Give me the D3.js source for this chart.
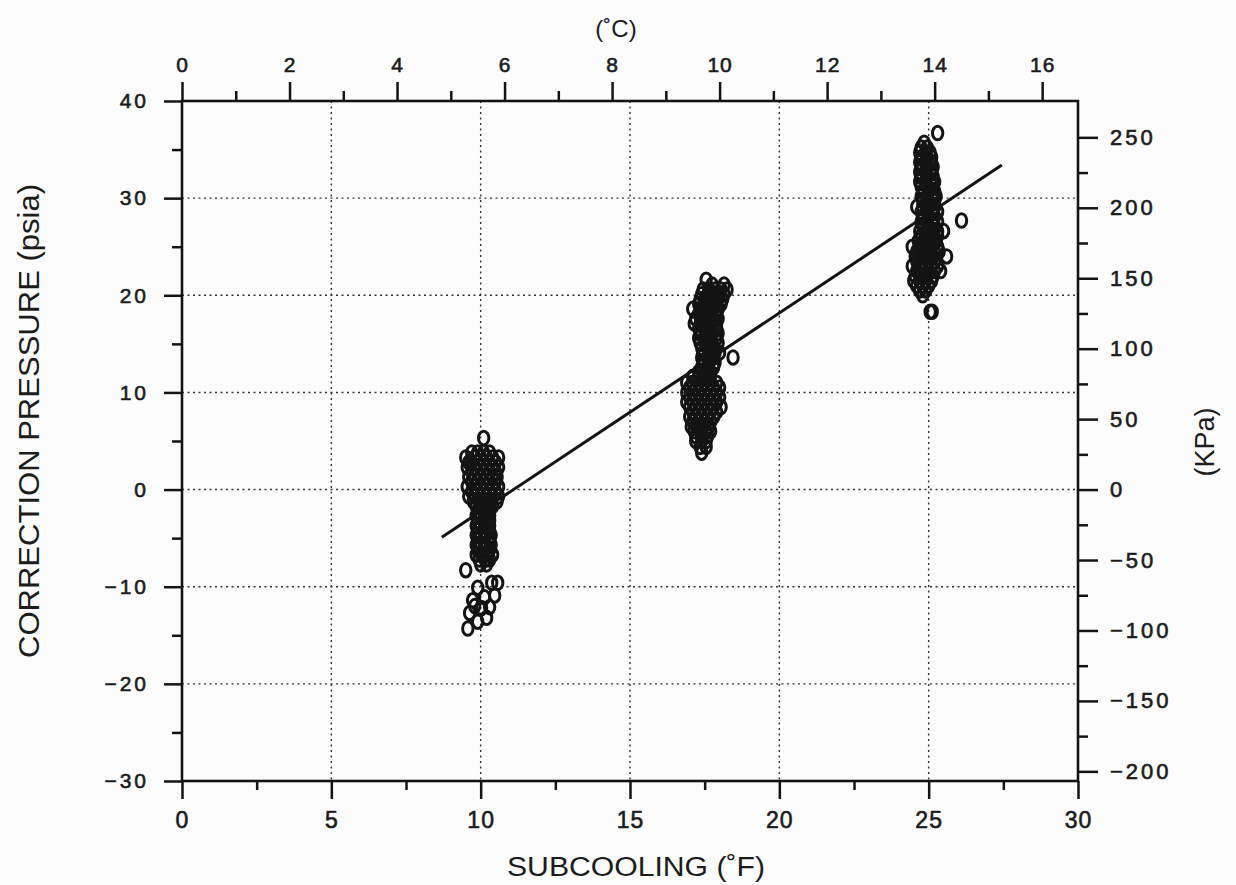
<!DOCTYPE html>
<html><head><meta charset="utf-8">
<script src="https://cdn.jsdelivr.net/npm/d3@7"></script>
<style>
body{margin:0;background:#fcfcfc}
svg{display:block;font-family:"Liberation Sans",Arial,Helvetica,sans-serif}
</style>
</head><body>
<svg id="c" width="1236" height="885"></svg>
<script>
// ---- data ----
const xTicksF = [0, 5, 10, 15, 20, 25, 30];
const xMinorF = [2.5, 7.5, 12.5, 17.5, 22.5, 27.5];
const xTicksC = [0, 2, 4, 6, 8, 10, 12, 14, 16];
const xMinorC = [1, 3, 5, 7, 9, 11, 13, 15];
const yTicksPsi = [40, 30, 20, 10, 0, -10, -20, -30];
const yMinorPsi = [35, 25, 15, 5, -5, -15, -25];
const yTicksKPa = [250, 200, 150, 100, 50, 0, -50, -100, -150, -200];
const yMinorKPa = [225, 175, 125, 75, 25, -25, -75, -125, -175];
const gridX = [5, 10, 15, 20, 25];
const gridY = [30, 20, 10, 0, -10, -20];

// observations, grouped by pressure (psia): [pressure, [subcooling values (F)]]
const rowsA = [
  [5.3, [10.1]],
  [3.8, [9.7, 9.9, 10.1, 10.3]],
  [3.3, [9.5, 9.8, 10.0, 10.2, 10.4, 10.6]],
  [2.8, [9.6, 9.7, 9.9, 10.1, 10.3, 10.5]],
  [2.3, [9.55, 9.8, 10.0, 10.2, 10.4, 10.6]],
  [1.8, [9.7, 9.9, 10.1, 10.3, 10.5]],
  [1.3, [9.6, 9.8, 10.0, 10.2, 10.4, 10.55]],
  [0.8, [9.7, 9.9, 10.1, 10.3, 10.5]],
  [0.3, [9.55, 9.8, 10.0, 10.2, 10.4, 10.6]],
  [-0.2, [9.7, 9.9, 10.1, 10.3, 10.5]],
  [-0.7, [9.6, 9.8, 10.0, 10.2, 10.4, 10.6]],
  [-1.2, [9.75, 9.95, 10.15, 10.35, 10.55]],
  [-1.7, [9.85, 10.0, 10.2, 10.4]],
  [-2.2, [9.9, 10.1, 10.3]],
  [-2.7, [9.85, 10.0, 10.15, 10.3]],
  [-3.2, [9.9, 10.1, 10.3]],
  [-3.7, [9.85, 10.0, 10.15, 10.3]],
  [-4.2, [9.9, 10.1, 10.3]],
  [-4.7, [9.85, 10.0, 10.15, 10.35]],
  [-5.2, [9.9, 10.1, 10.3]],
  [-5.7, [9.85, 10.0, 10.15, 10.35]],
  [-6.2, [9.9, 10.1, 10.3]],
  [-6.7, [9.85, 10.05, 10.25, 10.4]],
  [-7.2, [9.95, 10.15, 10.3]],
  [-7.7, [10.0, 10.2]],
  [-8.3, [9.5]],
  [-9.6, [10.37, 10.57]],
  [-10.1, [9.9]],
  [-10.9, [10.47]],
  [-11.1, [10.13]],
  [-11.4, [9.73]],
  [-12.0, [9.8]],
  [-12.1, [10.3]],
  [-12.2, [10.03]],
  [-12.7, [9.63]],
  [-13.2, [10.2]],
  [-13.6, [9.9]],
  [-14.3, [9.57]]
];
const rowsB = [
  [21.6, [17.55]],
  [21.1, [17.75, 18.15]],
  [20.6, [17.45, 17.65, 17.85, 18.05, 18.25]],
  [20.1, [17.4, 17.6, 17.8, 18.0, 18.15]],
  [19.6, [17.35, 17.55, 17.75, 17.95, 18.1]],
  [19.1, [17.3, 17.5, 17.7, 17.9, 18.05]],
  [18.6, [17.1, 17.35, 17.55, 17.75, 17.95]],
  [18.1, [17.3, 17.5, 17.7, 17.9]],
  [17.6, [17.2, 17.4, 17.6, 17.8, 17.95]],
  [17.1, [17.15, 17.35, 17.55, 17.75, 17.9]],
  [16.6, [17.3, 17.5, 17.7, 17.9]],
  [16.1, [17.35, 17.55, 17.75, 17.95]],
  [15.6, [17.3, 17.5, 17.7, 17.9]],
  [15.1, [17.35, 17.55, 17.75, 17.95]],
  [14.6, [17.4, 17.6, 17.8]],
  [14.1, [17.45, 17.65, 17.85, 18.0]],
  [13.6, [17.4, 17.6, 17.8, 18.45]],
  [13.1, [17.45, 17.65, 17.85]],
  [12.6, [17.4, 17.6, 17.8]],
  [12.1, [17.3, 17.5, 17.7]],
  [11.6, [17.1, 17.3, 17.5, 17.7]],
  [11.0, [16.9, 17.1, 17.3, 17.5, 17.7, 17.9]],
  [10.5, [17.0, 17.2, 17.4, 17.6, 17.8, 18.0]],
  [10.0, [16.9, 17.1, 17.3, 17.5, 17.7, 17.9]],
  [9.5, [17.0, 17.2, 17.4, 17.6, 17.8, 18.0]],
  [9.0, [16.9, 17.1, 17.3, 17.5, 17.7, 17.9]],
  [8.5, [17.0, 17.2, 17.4, 17.6, 17.8, 18.05]],
  [8.0, [17.1, 17.3, 17.5, 17.7, 17.9]],
  [7.5, [17.0, 17.2, 17.4, 17.6, 17.8]],
  [7.0, [17.1, 17.3, 17.5, 17.7]],
  [6.5, [17.05, 17.25, 17.45, 17.65]],
  [6.0, [17.15, 17.35, 17.55, 17.7]],
  [5.5, [17.2, 17.4, 17.6]],
  [5.0, [17.2, 17.4, 17.55]],
  [4.4, [17.35, 17.55]],
  [3.8, [17.4]]
];
const rowsC = [
  [36.7, [25.3]],
  [35.7, [24.85]],
  [35.2, [24.75, 24.95]],
  [34.7, [24.7, 24.9, 25.05]],
  [34.2, [24.75, 24.95, 25.1]],
  [33.7, [24.7, 24.9, 25.1]],
  [33.2, [24.75, 24.95, 25.15]],
  [32.7, [24.7, 24.9, 25.1]],
  [32.2, [24.75, 24.95, 25.15]],
  [31.7, [24.7, 24.9, 25.1, 25.2]],
  [31.2, [24.75, 24.95, 25.15]],
  [30.7, [24.8, 25.0, 25.2]],
  [30.2, [24.75, 24.95, 25.15, 25.25]],
  [29.7, [24.8, 25.0, 25.2]],
  [29.1, [24.6, 24.8, 25.0, 25.2]],
  [28.6, [24.75, 24.95, 25.15, 25.3]],
  [28.1, [24.8, 25.0, 25.2]],
  [27.7, [26.1]],
  [27.6, [24.75, 24.95, 25.15, 25.3]],
  [27.1, [24.8, 25.0, 25.2]],
  [26.6, [24.7, 24.9, 25.1, 25.3, 25.5]],
  [26.1, [24.75, 24.95, 25.15, 25.3]],
  [25.6, [24.65, 24.85, 25.05, 25.25]],
  [25.0, [24.45, 24.7, 24.9, 25.1, 25.3]],
  [24.5, [24.6, 24.8, 25.0, 25.2, 25.35]],
  [24.0, [24.55, 24.75, 24.95, 25.15, 25.6]],
  [23.5, [24.6, 24.8, 25.0, 25.2]],
  [23.0, [24.45, 24.7, 24.9, 25.1, 25.3]],
  [22.5, [24.6, 24.8, 25.0, 25.2, 25.4]],
  [22.0, [24.55, 24.75, 24.95, 25.15]],
  [21.5, [24.5, 24.7, 24.9, 25.1]],
  [21.0, [24.6, 24.8, 25.0]],
  [20.5, [24.7, 24.9]],
  [20.0, [24.8]],
  [18.3, [25.05, 25.12]]
];
const fitLine = [[8.7, -4.9], [27.45, 33.4]];

const PSI_TO_KPA = 6.894757;

// ---- drawing ----
const svg = d3.select('#c');
const L = 182, R = 1078, T = 101, B = 781;
const x = d3.scaleLinear().domain([0, 30]).range([L, R]);
const xC = d3.scaleLinear().domain([0, 30 / 1.8]).range([L, R]);
const y = d3.scaleLinear().domain([-30, 40]).range([B, T]);
const yK = d3.scaleLinear().domain([-30 * PSI_TO_KPA, 40 * PSI_TO_KPA]).range([B, T]);
const ink = '#141414';
const txt = '#1c1c1c';
const fmt = d => d < 0 ? '\u2212' + Math.abs(d) : String(d);
const tf = '"Liberation Sans",Arial,sans-serif';

svg.append('rect').attr('width', 1236).attr('height', 885).attr('fill', '#fcfcfc');

// grid
const grid = svg.append('g').attr('stroke', '#333').attr('stroke-width', 1.4).attr('stroke-dasharray', '2,3.5');
grid.selectAll('.gx').data(gridX).join('line')
  .attr('x1', d => x(d)).attr('x2', d => x(d)).attr('y1', T).attr('y2', B);
grid.selectAll('.gy').data(gridY).join('line')
  .attr('y1', d => y(d)).attr('y2', d => y(d)).attr('x1', L).attr('x2', R);

function styleAxis(g, fs, ls) {
  g.select('.domain').remove();
  g.selectAll('line').attr('stroke', ink).attr('stroke-width', 2.5);
  g.selectAll('text').attr('fill', txt).attr('font-size', fs).attr('letter-spacing', ls)
    .attr('font-family', tf).attr('stroke', txt).attr('stroke-width', 0.6);
}

// bottom
svg.append('g').attr('transform', `translate(0,${B})`)
  .call(d3.axisBottom(x).tickValues(xTicksF).tickSize(18).tickPadding(13).tickFormat(fmt))
  .call(g => styleAxis(g, 23, 1));
svg.append('g').attr('transform', `translate(0,${B})`)
  .call(d3.axisBottom(x).tickValues(xMinorF).tickSize(9).tickFormat(''))
  .call(g => styleAxis(g, 0, 0));
// top (C)
svg.append('g').attr('transform', `translate(0,${T})`)
  .call(d3.axisTop(xC).tickValues(xTicksC).tickSize(19).tickPadding(10).tickFormat(fmt))
  .call(g => styleAxis(g, 21, 1));
svg.append('g').attr('transform', `translate(0,${T})`)
  .call(d3.axisTop(xC).tickValues(xMinorC).tickSize(10).tickFormat(''))
  .call(g => styleAxis(g, 0, 0));
// left
svg.append('g').attr('transform', `translate(${L},0)`)
  .call(d3.axisLeft(y).tickValues(yTicksPsi).tickSize(18).tickPadding(15).tickFormat(fmt))
  .call(g => styleAxis(g, 21, 3));
svg.append('g').attr('transform', `translate(${L},0)`)
  .call(d3.axisLeft(y).tickValues(yMinorPsi).tickSize(10).tickFormat(''))
  .call(g => styleAxis(g, 0, 0));
// right (kPa)
svg.append('g').attr('transform', `translate(${R},0)`)
  .call(d3.axisRight(yK).tickValues(yTicksKPa).tickSize(20).tickPadding(12).tickFormat(fmt))
  .call(g => styleAxis(g, 22, 3));
svg.append('g').attr('transform', `translate(${R},0)`)
  .call(d3.axisRight(yK).tickValues(yMinorKPa).tickSize(10).tickFormat(''))
  .call(g => styleAxis(g, 0, 0));

// frame
svg.append('rect').attr('x', L).attr('y', T).attr('width', R - L).attr('height', B - T)
  .attr('fill', 'none').attr('stroke', ink).attr('stroke-width', 2.6);

// fit line
svg.append('path').datum(fitLine)
  .attr('d', d3.line().x(d => x(d[0])).y(d => y(d[1])))
  .attr('stroke', ink).attr('stroke-width', 3).attr('fill', 'none');

// points
const toPts = rows => rows.flatMap(([p, xs]) => xs.map(s => [s, p]));
const pts = toPts(rowsA).concat(toPts(rowsB), toPts(rowsC));
svg.append('g').selectAll('ellipse').data(pts).join('ellipse')
  .attr('cx', d => x(d[0])).attr('cy', d => y(d[1]))
  .attr('rx', 5.2).attr('ry', 6.8)
  .attr('fill', 'none').attr('stroke', ink).attr('stroke-width', 3);

// titles
svg.append('text').text('(\u02DAC)').attr('x', 616).attr('y', 37).attr('text-anchor', 'middle')
  .attr('font-size', 24).attr('font-family', tf).attr('fill', txt);
svg.append('text').text('SUBCOOLING (\u02DAF)').attr('x', 636).attr('y', 876).attr('text-anchor', 'middle')
  .attr('font-size', 27).attr('font-family', tf).attr('fill', txt)
  .attr('textLength', 258).attr('lengthAdjust', 'spacingAndGlyphs');
svg.append('text').text('CORRECTION PRESSURE (psia)')
  .attr('transform', 'translate(39,421) rotate(-90)').attr('text-anchor', 'middle')
  .attr('font-size', 29).attr('font-family', tf).attr('fill', txt)
  .attr('textLength', 474).attr('lengthAdjust', 'spacingAndGlyphs');
svg.append('text').text('(KPa)')
  .attr('transform', 'translate(1214,442) rotate(-90)').attr('text-anchor', 'middle')
  .attr('font-size', 27).attr('font-family', tf).attr('fill', txt);
</script>
</body></html>
